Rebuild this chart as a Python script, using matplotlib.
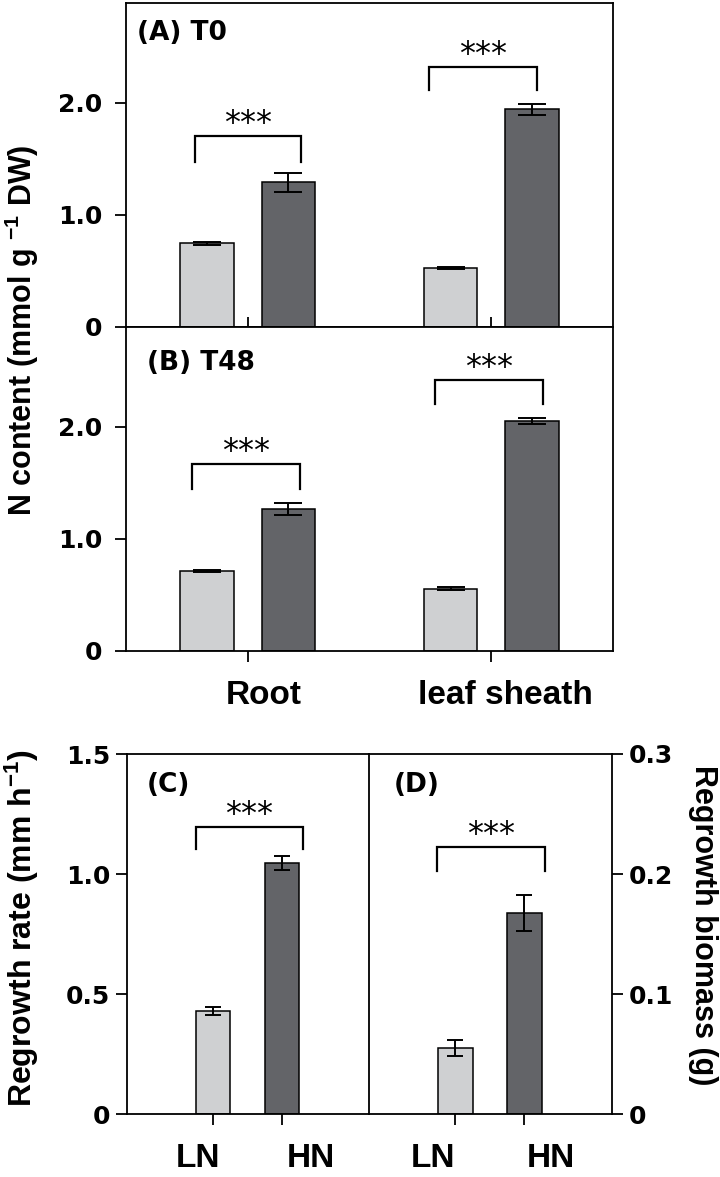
import numpy as np
import matplotlib
matplotlib.use("Agg")
from matplotlib import pyplot as plt

plt.rcParams['font.family'] = ['Liberation Sans', 'DejaVu Sans']
plt.rcParams['font.weight'] = 'bold'
plt.rcParams['mathtext.default'] = 'regular'

tissues = ['Root', 'leaf sheath']
treatments = ['LN', 'HN']

# panel A (T0)
a_ln = [0.745, 0.525]
a_ln_err = [0.012, 0.012]
a_hn = [1.29, 1.94]
a_hn_err = [0.085, 0.05]
# panel B (T48)
b_ln = [0.716, 0.556]
b_ln_err = [0.008, 0.015]
b_hn = [1.266, 2.05]
b_hn_err = [0.05, 0.03]
# panel C regrowth rate, panel D regrowth biomass
c_vals = [0.43, 1.045]
c_err = [0.017, 0.03]
d_vals = [0.055, 0.168]
d_err = [0.0065, 0.015]

# significance brackets: (x0, x1, y, leg end), x relative to group centre
a_brackets = [(-0.218, 0.22, 1.70, 1.47), (-0.254, 0.188, 2.32, 2.11)]
b_brackets = [(-0.228, 0.214, 1.667, 1.447), (-0.229, 0.213, 2.416, 2.20)]
c_bracket = (-0.25, 1.31, 1.196, 1.105)
d_bracket = (-0.26, 1.295, 0.2228, 0.2028)

# where the category names sit (they are not centred on the ticks)
tissue_label_x = [0.065, 1.06]
c_label_x = [-0.22, 1.42]
d_label_x = [-0.32, 1.38]

light = '#cfd0d2'
dark = '#636468'
W, H = 720, 1177
tickfont = dict(family='DejaVu Sans', weight='bold', size=18)

fig = plt.figure(figsize=(7.2, 11.77), dpi=100)


def box(l, t, r, b):
    return [l / W, 1 - b / H, (r - l) / W, (b - t) / H]


axA = fig.add_axes(box(126, 3, 613, 326.7))
axB = fig.add_axes(box(126, 326.7, 613, 651))
axC = fig.add_axes(box(127, 754, 369, 1114.3))
axD = fig.add_axes(box(369, 754, 612, 1114.3))


def bracket(ax, x0, x1, y, yleg):
    ax.plot([x0, x0, x1, x1], [yleg, y, y, yleg], color='black', lw=1.6,
            solid_joinstyle='miter')
    ax.annotate('***', ((x0 + x1) / 2, y), xytext=(0, 3), textcoords='offset points',
                ha='center', va='baseline', family='DejaVu Sans', fontsize=23,
                fontweight='normal')


def style_yticks(ax):
    for lab in ax.get_yticklabels():
        lab.set_fontproperties(tickfont)


def cat_labels(ax, pos, names):
    ax.set_xticks(pos, minor=True)
    ax.set_xticklabels(names, minor=True, fontsize=24, fontweight='bold')
    ax.tick_params(axis='x', which='minor', length=0, pad=21)
    ax.tick_params(axis='x', which='major', labelbottom=False)


x = np.arange(len(tissues))
off = 0.167
bw = 0.22
for ax, ln, ln_e, hn, hn_e, brs in [(axA, a_ln, a_ln_err, a_hn, a_hn_err, a_brackets),
                                    (axB, b_ln, b_ln_err, b_hn, b_hn_err, b_brackets)]:
    ax.bar(x - off, ln, bw, color=light, edgecolor='black', linewidth=1.1, zorder=2)
    ax.bar(x + off, hn, bw, color=dark, edgecolor='black', linewidth=1.1, zorder=2)
    ax.errorbar(x - off, ln, yerr=ln_e, fmt='none', ecolor='black', elinewidth=1.4,
                capsize=10, capthick=1.4, zorder=3)
    ax.errorbar(x + off, hn, yerr=hn_e, fmt='none', ecolor='black', elinewidth=1.4,
                capsize=10, capthick=1.4, zorder=3)
    for i, (x0, x1, y, yl) in enumerate(brs):
        bracket(ax, x[i] + x0, x[i] + x1, y, yl)
    ax.set_xlim(-0.5, 1.5)
    ax.set_ylim(0, 2.89)
    ax.set_yticks([0, 1, 2])
    ax.set_yticklabels(['0', '1.0', '2.0'])
    style_yticks(ax)
    ax.set_xticks(x)
    ax.tick_params(axis='y', length=8, width=1.3, pad=9)

axA.tick_params(axis='x', direction='in', length=7, width=1.3, labelbottom=False)
axB.tick_params(axis='x', direction='out', length=8, width=1.3)
cat_labels(axB, tissue_label_x, tissues)

xt = np.arange(len(treatments))
axC.bar(xt, c_vals, 0.5, color=[light, dark], edgecolor='black', linewidth=1.1, zorder=2)
axC.errorbar(xt, c_vals, yerr=c_err, fmt='none', ecolor='black', elinewidth=1.4,
             capsize=6, capthick=1.4, zorder=3)
axD.bar(xt, d_vals, 0.5, color=[light, dark], edgecolor='black', linewidth=1.1, zorder=2)
axD.errorbar(xt, d_vals, yerr=d_err, fmt='none', ecolor='black', elinewidth=1.4,
             capsize=6, capthick=1.4, zorder=3)
bracket(axC, *c_bracket)
bracket(axD, *d_bracket)

for ax, lx in ((axC, c_label_x), (axD, d_label_x)):
    ax.set_xlim(-1.25, 2.27)
    ax.set_xticks(xt)
    ax.tick_params(axis='x', direction='out', length=8, width=1.3)
    cat_labels(ax, lx, treatments)

axC.set_ylim(0, 1.5)
axC.set_yticks([0, 0.5, 1.0, 1.5])
axC.set_yticklabels(['0', '0.5', '1.0', '1.5'])
style_yticks(axC)
axC.tick_params(axis='y', length=8, width=1.3, pad=4)
axC.spines['right'].set_visible(False)
axD.set_ylim(0, 0.3)
axD.yaxis.tick_right()
axD.set_yticks([0, 0.1, 0.2, 0.3])
axD.set_yticklabels(['0', '0.1', '0.2', '0.3'])
style_yticks(axD)
axD.tick_params(axis='y', length=8, width=1.3, pad=4)

for ax in (axA, axB, axC, axD):
    for s in ax.spines.values():
        s.set_linewidth(1.3)

panel = dict(family='DejaVu Sans', fontweight='bold', fontsize=19, va='center')
axA.text(0.023, 0.907, '(A) T0', transform=axA.transAxes, **panel)
axB.text(0.043, 0.888, '(B) T48', transform=axB.transAxes, **panel)
axC.text(0.08, 0.915, '(C)', transform=axC.transAxes, **panel)
axD.text(0.10, 0.915, '(D)', transform=axD.transAxes, **panel)

fig.text(22 / W, 1 - 330 / H, 'N content (mmol g $^{-1}$ DW)', rotation=90,
         ha='center', va='center', fontsize=22)
fig.text(22 / W, 1 - 928 / H, 'Regrowth rate (mm h$^{-1}$)', rotation=90,
         ha='center', va='center', fontsize=23)
fig.text(703 / W, 1 - 925 / H, 'Regrowth biomass (g)', rotation=270,
         ha='center', va='center', fontsize=22)

fig.savefig('out.png', dpi=100)
